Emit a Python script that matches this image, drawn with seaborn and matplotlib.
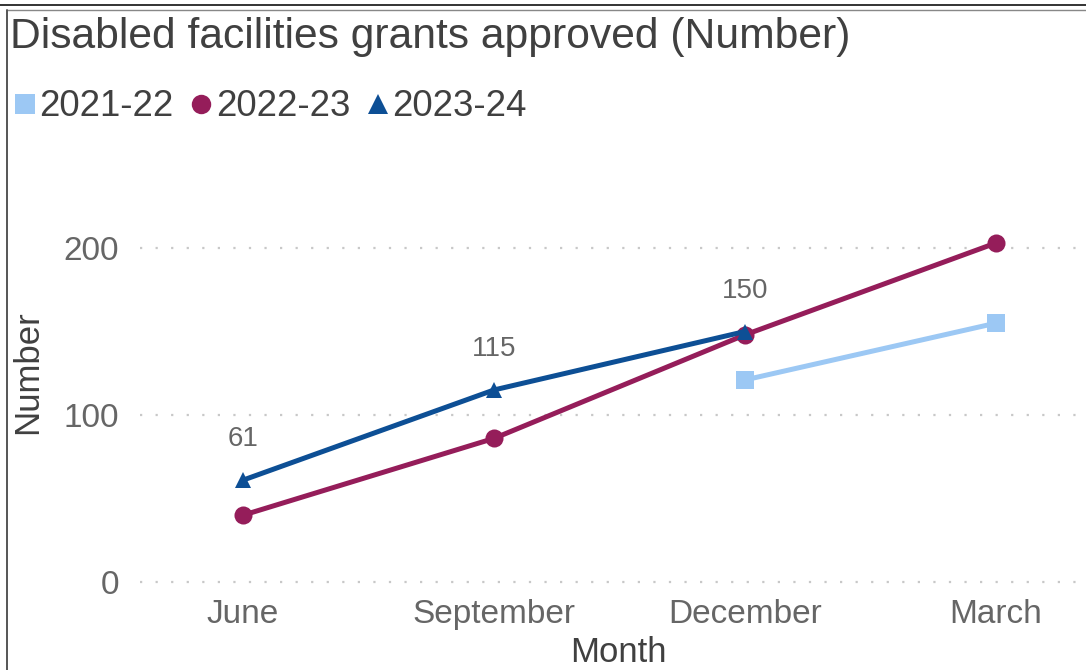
import matplotlib
matplotlib.use("Agg")
import matplotlib.pyplot as plt
from matplotlib.lines import Line2D
import numpy as np
import pandas as pd
import seaborn as sns

months = ["June", "September", "December", "March"]
series_names = ["2021-22", "2022-23", "2023-24"]
v_2021_22 = [np.nan, np.nan, 121, 155]
v_2022_23 = [40, 86, 148, 203]
v_2023_24 = [61, 115, 150, np.nan]
labels_2023_24 = [61, 115, 150]

colors = {"2021-22": "#9CC8F4", "2022-23": "#951D5A", "2023-24": "#0D4F95"}
markers = {"2021-22": "s", "2022-23": "o", "2023-24": "^"}

rows = []
for name, vals in zip(series_names, [v_2021_22, v_2022_23, v_2023_24]):
    for i, (m, v) in enumerate(zip(months, vals)):
        rows.append({"Month": m, "pos": i, "Number": v, "Series": name})
df = pd.DataFrame(rows)

sns.set_theme(style="white")
plt.rcParams["font.family"] = ["Liberation Sans", "DejaVu Sans"]

W, H = 1086, 670
fig = plt.figure(figsize=(W / 100, H / 100), dpi=100)
left_px, right_px = 140, 1078
ymin, ymax = -5, 230
px_per_unit = 1.67
bottom_px = 582 + (0 - ymin) * px_per_unit
top_px = 582 - ymax * px_per_unit
ax = fig.add_axes([left_px / W, 1 - bottom_px / H, (right_px - left_px) / W, (bottom_px - top_px) / H])

for name in series_names:
    sub = df[df["Series"] == name].dropna()
    sns.lineplot(data=sub, x="pos", y="Number", ax=ax, color=colors[name],
                 marker=markers[name], markersize=13 if name != "2023-24" else 12,
                 markeredgewidth=0, linewidth=3.6, legend=False, zorder=3 if name == "2023-24" else 2)

for i, v in enumerate(labels_2023_24):
    ax.annotate(str(v), (i, v), xytext=(0, 20), textcoords="offset points",
                ha="center", va="bottom", fontsize=20, color="#666666")

ax.set_xlim(-103 / 251, -103 / 251 + (right_px - left_px) / 251)
ax.set_ylim(ymin, ymax)
ax.set_xticks(range(len(months)))
ax.set_xticklabels(months)
ax.set_yticks([0, 100, 200])
ax.tick_params(axis="both", labelsize=24, colors="#666666", length=0)
ax.tick_params(axis="y", pad=15)
ax.tick_params(axis="x", pad=6)
for s in ax.spines.values():
    s.set_visible(False)
ax.grid(axis="y", linestyle=(0, (1, 6)), color="#C8C8C8", linewidth=1.6)
ax.grid(axis="x", visible=False)
ax.set_xlabel("")
ax.set_ylabel("")
ax.patch.set_alpha(0)

fig.text(618 / W, 1 - 652 / H, "Month", ha="center", va="center", fontsize=25, color="#404040")
fig.text(28 / W, 1 - 372 / H, "Number", ha="center", va="center", rotation=90, fontsize=25, color="#404040")
fig.text(10 / W, 1 - 37 / H, "Disabled facilities grants approved (Number)", ha="left", va="center",
         fontsize=30.7, color="#404040")

handles = [Line2D([], [], linestyle="none", marker=markers[n], color=colors[n], markersize=14, markeredgewidth=0)
           for n in series_names]
fig.legend(handles, series_names, loc="center left", bbox_to_anchor=(12 / W, 1 - 107 / H), ncol=3,
           frameon=False, fontsize=26.4, labelcolor="#404040", handlelength=0.7, handletextpad=0.05,
           columnspacing=0.4, borderaxespad=0, borderpad=0)

# frame lines
fig.add_artist(Line2D([0, 1], [1 - 4.5 / H, 1 - 4.5 / H], color="#111111", linewidth=1.2))
fig.add_artist(Line2D([7 / W, 1], [1 - 10 / H, 1 - 10 / H], color="#888888", linewidth=1.0))
fig.add_artist(Line2D([7 / W, 7 / W], [0, 1 - 10 / H], color="#555555", linewidth=1.4))

fig.savefig("out.png", dpi=100)
